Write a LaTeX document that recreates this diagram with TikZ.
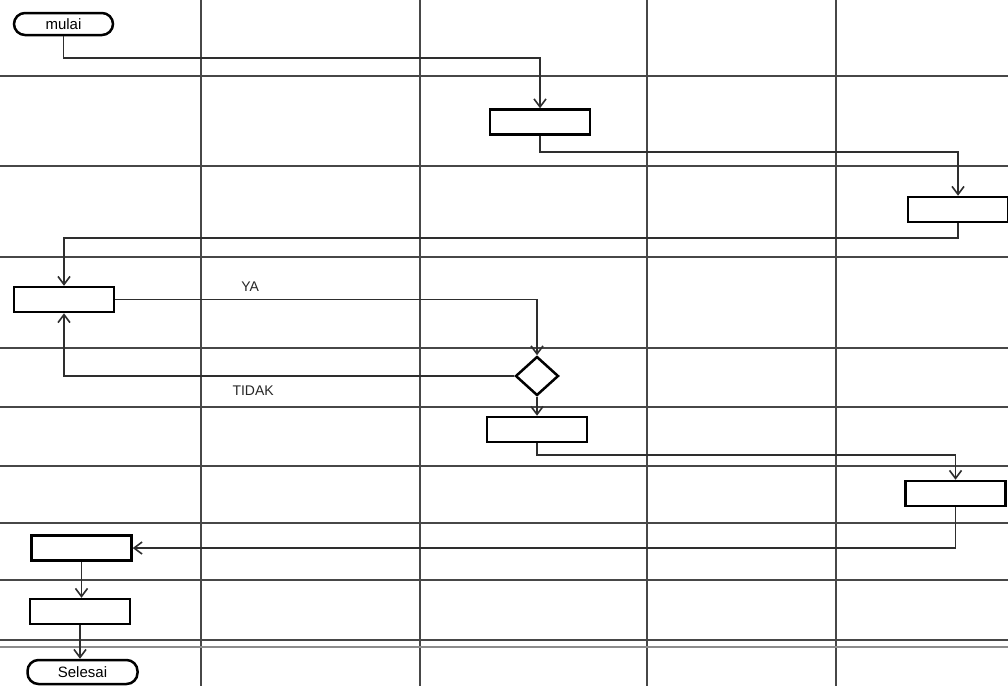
\documentclass[tikz,border=0pt]{standalone}
\usepackage{fontspec}
\setmainfont{Liberation Sans}
\usetikzlibrary{arrows.meta,shapes.geometric}
\begin{document}
\begin{tikzpicture}[x=1pt,y=-1pt,
  gridline/.style={line width=1.9pt, black!72},
  proc/.style={draw, fill=white, line width=2.5pt, minimum width=100pt, minimum height=25pt, inner sep=0pt},
  term/.style={draw, fill=white, line width=2.5pt, rounded corners=11pt, minimum height=22pt, inner sep=0pt, font=\fontsize{15}{15}\selectfont},
  dec/.style={draw, fill=white, diamond, line width=2.5pt, minimum width=43pt, minimum height=39pt, inner sep=0pt},
  conn/.style={line width=1.6pt, black!82, -{Straight Barb[length=8pt,width=12pt]}},
  lbl/.style={font=\fontsize{14}{14}\selectfont, black!85}]
\useasboundingbox (0,0) rectangle (1008,686);
\fill[white] (0,0) rectangle (1008,686);
% grid
\foreach \x in {201,420,647,836} \draw[gridline] (\x,0) -- (\x,686);
\foreach \y in {76,166,257,348,407,466,523,580,640} \draw[gridline] (0,\y) -- (1008,\y);
\draw[gridline, black!45, line width=1.3pt] (0,647) -- (1008,647);
% nodes
\node[term, minimum width=99pt] (m) at (63.5,24) {mulai};
\node[proc] (b1) at (540,122) {};
\node[proc] (b2) at (958,209.5) {};
\node[proc] (b3) at (64,299.5) {};
\node[dec] (d) at (537,376) {};
\node[proc] (b4) at (537,429.5) {};
\node[proc] (b5) at (955.5,493.5) {};
\node[proc] (b6) at (81.5,548) {};
\node[proc] (b7) at (80,611.5) {};
\node[term, minimum width=110pt, minimum height=24pt] (s) at (82.5,672) {Selesai};
% connectors
\draw[conn] (m.south) -- ++(0,22) -| (b1.north);
\draw[conn] (b1.south) -- ++(0,16) -| (b2.north);
\draw[conn] (b2.south) -- ++(0,15) -| (b3.north);
\draw[conn] (b3.east) -| node[lbl, pos=0.16, above=4pt] (ya) {YA} (d.north);
\draw[conn] (d.west) -| node[lbl, pos=0.29, below=6pt] (tidak) {TIDAK} (b3.south);
\draw[conn] (d.south) -- (b4.north);
\draw[conn] (b4.south) -- ++(0,12) -| (b5.north);
\draw[conn] (b5.south) |- (b6.east);
\draw[conn] (b6.south) -- (b6.south |- b7.north);
\draw[conn] (b7.south) -- (b7.south |- s.north);
\end{tikzpicture}
\end{document}
